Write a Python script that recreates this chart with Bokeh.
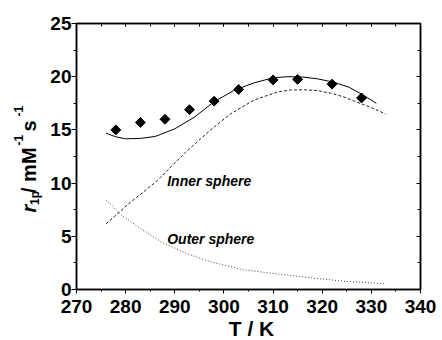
import math
from bokeh.plotting import figure
from bokeh.models import Range1d, LinearAxis, SingleIntervalTicker, Label
from bokeh.embed import file_html
from bokeh.resources import INLINE

# measured relaxivity data
T_exp = [278, 283, 288, 293, 298, 303, 310, 315, 322, 328]
r_exp = [15.0, 15.7, 16.0, 16.9, 17.7, 18.8, 19.7, 19.75, 19.3, 18.0]

# total fit (solid)
T_fit = [276.0, 278, 280, 283, 286, 290, 294, 298, 302, 306, 310, 313, 316, 319, 322.4, 325.5, 328.5, 331.0]
r_fit = [14.69, 14.35, 14.16, 14.2, 14.38, 15.1, 16.2, 17.65, 18.7, 19.4, 19.9, 20.0, 19.97, 19.8, 19.48, 19.0, 18.23, 17.5]

# inner sphere contribution (dashed)
T_is = [276.0, 280.6, 286.1, 292.2, 297.3, 301.3, 306.1, 310.8, 313.5, 316.2, 319.0, 321.7, 324.4, 327.1, 330.0, 332.9]
r_is = [6.17, 8.05, 10.09, 12.9, 15.0, 16.5, 17.8, 18.55, 18.75, 18.77, 18.7, 18.45, 18.1, 17.6, 17.1, 16.5]

# outer sphere contribution (dotted)
T_os = [276.0, 279.3, 283.4, 287.5, 292.9, 297.3, 304.0, 310.8, 317.6, 324.4, 332.9]
r_os = [8.43, 6.95, 5.6, 4.4, 3.3, 2.6, 1.85, 1.47, 1.1, 0.78, 0.55]

x_label = "T / K"
inner_label = "Inner sphere"
outer_label = "Outer sphere"

W, H = 442, 340
FL, FR, FT, FB = 76, 420, 23, 289
X0, X1, Y0, Y1 = 270, 340, 0, 25


def xd(px):
    return X0 + (px - FL) * (X1 - X0) / (FR - FL)


def yd(py):
    return Y1 - (py - FT) * (Y1 - Y0) / (FB - FT)


p = figure(width=W, height=H, output_backend="svg", toolbar_location=None,
           x_range=Range1d(X0, X1), y_range=Range1d(Y0, Y1),
           min_border_left=FL, min_border_right=W - FR,
           min_border_top=FT, min_border_bottom=H - FB)
p.xgrid.visible = False
p.ygrid.visible = False
p.outline_line_color = "black"
p.outline_line_width = 1.5
p.background_fill_color = "white"
p.border_fill_color = "white"

FONT = "Liberation Sans"

xa = p.xaxis[0]
xa.ticker = SingleIntervalTicker(interval=10, num_minor_ticks=2)
ya = p.yaxis[0]
ya.ticker = SingleIntervalTicker(interval=5, num_minor_ticks=2)
for ax in (xa, ya):
    ax.axis_line_color = "black"
    ax.axis_line_width = 1.5
    ax.major_tick_line_color = "black"
    ax.minor_tick_line_color = "black"
    ax.major_tick_line_width = 1
    ax.minor_tick_line_width = 1
    ax.major_tick_in = 0
    ax.minor_tick_in = 0
    ax.major_label_text_font = FONT
    ax.major_label_text_font_style = "bold"
    ax.major_label_text_font_size = "19px"
    ax.major_label_text_color = "black"
xa.major_tick_out = 4
xa.minor_tick_out = 2
xa.major_label_standoff = 6
ya.major_tick_out = 5
ya.minor_tick_out = 3
ya.major_label_standoff = 0

top = LinearAxis(ticker=SingleIntervalTicker(interval=10, num_minor_ticks=2))
right = LinearAxis(ticker=SingleIntervalTicker(interval=5, num_minor_ticks=2))
for ax, tin in ((top, 3), (right, 4)):
    ax.axis_line_color = "black"
    ax.axis_line_width = 1.5
    ax.major_tick_in = tin
    ax.major_tick_out = 0
    ax.minor_tick_in = 3
    ax.minor_tick_out = 0
    ax.major_tick_line_color = "black"
    ax.minor_tick_line_color = "black"
    ax.major_label_text_font_size = "1px"
    ax.major_label_text_color = None
    ax.major_label_standoff = 0
p.add_layout(top, "above")
p.add_layout(right, "right")

# curves
p.line(T_fit, r_fit, line_color="black", line_width=1)
p.line(T_is, r_is, line_color="#222222", line_width=1, line_dash="3 2")
p.line(T_os, r_os, line_color="#444444", line_width=1, line_dash="1 2")

# data points (diamonds)
p.scatter(T_exp, r_exp, marker="square", angle=math.pi / 4, size=7,
          fill_color="black", line_color="black")

# in-plot labels (baseline -> middle of text box)
for txt, py in ((inner_label, 185), (outer_label, 243.3)):
    p.add_layout(Label(x=xd(166.7), y=yd(py - 0.35 * 14), text=txt, text_font=FONT,
                       text_font_style="bold italic", text_font_size="14px",
                       text_baseline="middle", text_align="left",
                       text_color="black"))

# x axis title, kept in the bottom side panel so it is not clipped
p.add_layout(Label(x=xd(251), y=yd(335.5 - 0.35 * 21), text=x_label, text_font=FONT,
                   text_font_style="bold", text_font_size="21px",
                   text_baseline="middle", text_align="center",
                   text_color="black"), "below")

# y axis label, rotated, built from pieces; each piece lives in a side panel
# (so it is not clipped to the frame) where there is spare room.
# (text, style, font px, baseline x, start y, panel)
pieces = [
    ("r", "bold italic", 20, 35.0, 212.0, "above"),
    ("1p", "bold", 12, 38.5, 204.5, "left"),
    ("/ mM", "bold", 20, 35.0, 192.5, "left"),
    ("-1", "bold", 12, 22.5, 145.0, "left"),
    ("s", "bold", 20, 35.0, 131.0, "right"),
    ("-1", "bold", 12, 22.5, 116.0, "above"),
]
for txt, style, fs, bx, sy, side in pieces:
    p.add_layout(Label(x=xd(bx - 0.35 * fs), y=yd(sy), text=txt, text_font=FONT,
                       text_font_style=style, text_font_size=f"{fs}px",
                       angle=math.pi / 2, text_baseline="middle",
                       text_align="left", text_color="black"), side)

open("out.html", "w").write(file_html(p, INLINE))
